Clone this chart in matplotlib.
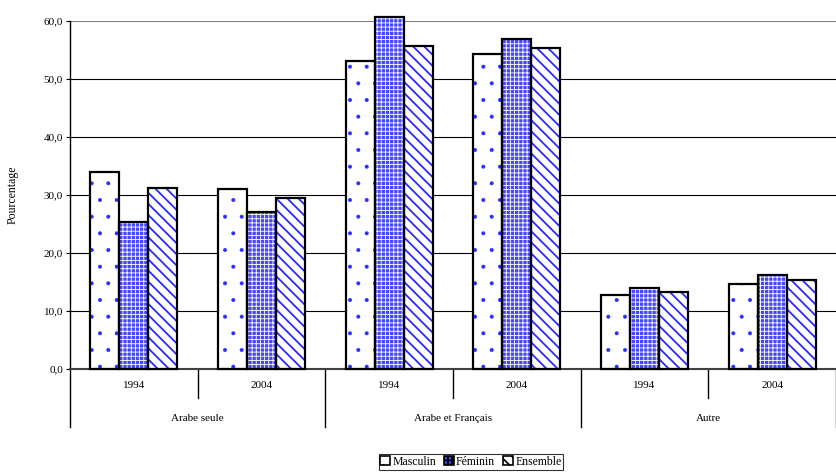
import numpy as np
import matplotlib.pyplot as plt
import matplotlib.transforms as mtransforms
from matplotlib.patches import Patch

plt.rcParams['font.family'] = ['Liberation Serif', 'DejaVu Serif']
plt.rcParams['hatch.linewidth'] = 1.2

# data
groups = ['Arabe seule', 'Arabe et Français', 'Autre']
years = ['1994', '2004']
series = ['Masculin', 'Féminin', 'Ensemble']
masculin = [34.0, 31.0, 53.1, 54.3, 12.8, 14.7]
feminin = [25.3, 27.1, 60.7, 56.9, 14.0, 16.2]
ensemble = [31.2, 29.5, 55.7, 55.3, 13.3, 15.3]

fig = plt.figure(figsize=(8.36, 4.72), dpi=100)
ax = fig.add_axes([70/836, 1-369/472, 766/836, 348/472])

x = np.arange(len(groups) * len(years))
w = 0.227
blue = '#2a2aff'

# (face, hatch colour, hatch, hatch linewidth)
styles = [('white', blue, '.', 0.4), ('#4646ff', 'white', '++++', 0.6), ('white', blue, '\\\\\\', 1.3)]


def set_hlw(p, lw):
    if hasattr(p, 'set_hatch_linewidth'):
        p.set_hatch_linewidth(lw)


for i, vals in enumerate([masculin, feminin, ensemble]):
    face, hc, hatch, hlw = styles[i]
    pos = x + (i - 1) * w
    bars = ax.bar(pos, vals, w, color=face, edgecolor=hc, hatch=hatch, linewidth=0, clip_on=False, zorder=2)
    for b in bars:
        set_hlw(b, hlw)
    ax.bar(pos, vals, w, fill=False, edgecolor='black', linewidth=1.6, clip_on=False, zorder=3)

ax.set_xlim(-0.5, 5.5)
ax.set_ylim(0, 60)
ax.set_yticks(np.arange(0, 61, 10))
ax.set_yticklabels([f'{v:.1f}'.replace('.', ',') for v in np.arange(0, 61, 10)], fontsize=8)
ax.tick_params(axis='y', direction='out', length=3, width=0.8, pad=2)
ax.set_xticks([])
for v in range(10, 60, 10):
    ax.axhline(v, color='black', lw=0.8, zorder=1)
ax.axhline(60, color='#808080', lw=1.5, zorder=1)
for s in ['top', 'right']:
    ax.spines[s].set_visible(False)
ax.spines['left'].set_linewidth(1.0)
ax.spines['bottom'].set_color('#404040')
ax.spines['bottom'].set_linewidth(1.5)
ax.set_ylabel('Pourcentage', fontsize=8.5, labelpad=18)

# multi-level category axis
tr = mtransforms.blended_transform_factory(ax.transData, ax.transAxes)
for i in range(len(x)):
    ax.text(x[i], -0.046, years[i % 2], transform=tr, ha='center', va='center', fontsize=8)
for g in range(len(groups)):
    ax.text(2 * g + 0.5, -0.141, groups[g], transform=tr, ha='center', va='center', fontsize=8)
for b in np.arange(-0.5, 6, 1):
    low = -0.167 if (b + 0.5) % 2 == 0 else -0.083
    ax.plot([b, b], [0, low], transform=tr, color='black', lw=1.0, clip_on=False)

handles = []
for face, hc, hatch, hlw in styles:
    p = Patch(facecolor=face, edgecolor='black', hatch=hatch, lw=1.2)
    handles.append(p)
leg = fig.legend(handles, series, loc='center', bbox_to_anchor=(471/836, 1-462/472), ncol=3,
                 fontsize=8.5, frameon=True, fancybox=False, handlelength=0.8, handleheight=0.8,
                 handletextpad=0.2, columnspacing=0.7, borderpad=0.15, edgecolor='black')
leg.get_frame().set_linewidth(0.8)

fig.savefig('out.png', dpi=100)
